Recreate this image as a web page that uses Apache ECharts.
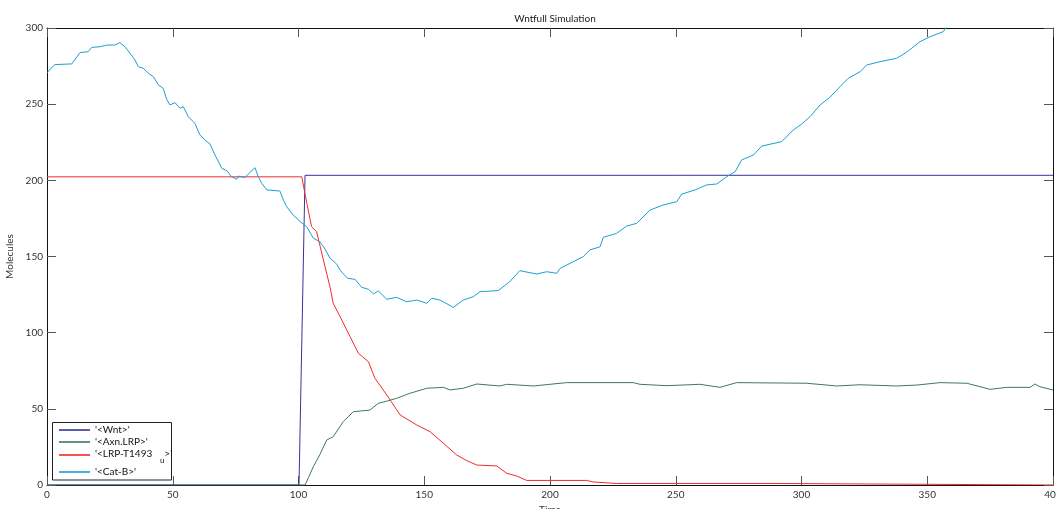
<!DOCTYPE html>
<html>
<head>
<meta charset="utf-8">
<script src="https://cdn.jsdelivr.net/npm/echarts@6/dist/echarts.min.js"></script>
<style>html,body{margin:0;padding:0;background:#fff}#c{width:1056px;height:509px}</style>
</head>
<body>
<div id="c"></div>
<script>
var seriesNames = ["'<Wnt>'", "'<Axn.LRP>'", "'<LRP-T1493_u>'", "'<Cat-B>'"];
var xTicks = [0, 400, 50];
var yTicks = [0, 300, 50];

var wntData = [[0,0],[100.2,0],[102.6,203.3],[400,203.3]];

var axnData = [[0,0],[102.6,0],[104,5],[105.9,12],[108.5,20],[111.2,29.5],[113.8,31.7],[117.8,41.6],[121.8,48.1],[128.4,49.2],[131.7,53.6],[135,55],[139,56.9],[144.3,60.2],[151,63.5],[157.6,64.1],[160.2,62.4],[165.5,63.5],[170.9,66.3],[180.1,65],[182.8,66.1],[193.4,65],[206.6,67.2],[233.1,67.2],[235.8,66.1],[246.4,65.2],[259.6,66.1],[267.6,64.1],[274.2,67.2],[302,66.8],[314,65],[323.3,65.8],[337.8,65],[345.8,65.6],[355.1,67.2],[365.7,66.8],[375,62.8],[381.6,64.1],[390.9,64.1],[392.8,66.3],[394.8,64.5],[400,62.4]];

var lrpData = [[0,202.3],[101.3,202.3],[103.3,185],[105.2,169.6],[107.2,166.3],[109.9,147.7],[112.5,130.2],[113.8,119.3],[117.2,108.3],[120.5,97.4],[123.8,86.5],[127.8,80.9],[130.4,70],[135.1,59.1],[140.4,46],[147,39.4],[152.3,35],[157.6,27.4],[162.9,19.7],[166.9,16],[170.9,13.1],[178.8,12.5],[182.8,7.7],[186.8,5.9],[190.7,3],[214.6,3],[217.2,2],[226.5,1],[289.5,1],[290,0],[400,0]];

var catData = [[0,270.5],[1.5,273.5],[3.2,276],[9.8,276.4],[13.1,283.8],[16.4,284.5],[17.8,287.3],[21.1,287.7],[23.7,288.8],[27,288.8],[29,290.4],[31,287.7],[33,283.4],[35,279],[36.3,274.6],[38.3,273.5],[40.3,270.3],[42.3,268],[44.3,262.6],[46.2,260.4],[47.6,253.2],[48.9,249.5],[50.9,251],[52.9,247.3],[54.2,248.3],[56.2,241.8],[58.8,237.4],[60.8,229.8],[62.8,226.5],[64.8,223.9],[66.8,216.6],[69.5,207.9],[71.5,206.3],[73.4,202.4],[75.4,200.7],[76.1,202.8],[78.7,201.9],[80,204.1],[82.7,208.3],[84,202.4],[85.4,198],[87.4,193.7],[92.6,193],[94,187],[95.3,182.7],[97.9,177.2],[100.6,173],[103.3,169.5],[105.9,162],[108.5,159.7],[110.5,155],[112.5,149],[115.2,145],[116.5,141.1],[119.5,135.7],[122.5,135],[125.1,129.8],[127.8,128.5],[129.8,125.4],[131.7,127.4],[135.1,121.9],[139,123.2],[143,120.3],[147,121.4],[151,119.3],[153,122.6],[156.3,121.4],[161.6,116.6],[165.5,121.4],[169.5,123.6],[172.2,126.9],[179.4,127.6],[184,133.5],[188,140.7],[194.7,138.5],[198.7,140],[202.7,139],[204,142.2],[209.3,146.6],[213.2,149.9],[215.9,154.3],[219.9,156.4],[221.2,162.6],[226.5,165.2],[230.5,170],[234.5,171.8],[239.8,180.5],[245,183.8],[250.4,186],[252.4,191],[257.7,193.7],[262.3,197],[266.3,197.6],[270.3,202.4],[273.6,205.7],[276.2,213.4],[280.9,216.6],[284.2,222.5],[292.1,225.4],[296.7,233],[300.1,237],[303.4,241.8],[307.4,249.5],[311.3,254.5],[315.3,261.5],[318.6,267],[323.3,271.3],[325.9,275.7],[331.2,277.9],[337.8,280.1],[341.8,284.1],[347.1,291],[351.1,294.3],[356.4,297.6],[357.7,300.9]];

var colors = ['#34349a', '#3d7a57', '#f02b2b', '#1c9fd0'];
var FONT = 'Lato';

function axisCommon(showLabel) {
  return {
    axisLine: {show: true, onZero: false, lineStyle: {color: '#111', width: 1}},
    axisTick: {show: true, inside: true, length: 9, lineStyle: {color: '#555', width: 1}},
    axisLabel: {show: showLabel, fontFamily: FONT, fontSize: 10, color: '#333'},
    splitLine: {show: false}
  };
}

function mkX(pos, showLabel) {
  var a = axisCommon(showLabel);
  a.type = 'value'; a.min = xTicks[0]; a.max = xTicks[1]; a.interval = xTicks[2];
  a.position = pos;
  a.axisLabel.margin = 5;
  if (showLabel) {
    a.name = 'Time'; a.nameLocation = 'middle'; a.nameGap = 17;
    a.nameTextStyle = {fontFamily: FONT, fontSize: 10, color: '#333'};
  }
  return a;
}
function mkY(pos, showLabel) {
  var a = axisCommon(showLabel);
  a.type = 'value'; a.min = yTicks[0]; a.max = yTicks[1]; a.interval = yTicks[2];
  a.position = pos;
  a.axisLabel.margin = 4;
  if (showLabel) {
    a.name = 'Molecules'; a.nameLocation = 'middle'; a.nameGap = 30;
    a.nameTextStyle = {fontFamily: FONT, fontSize: 10, color: '#333'};
  }
  return a;
}

function mkLegend(idx, top, formatter) {
  var l = {
    data: [seriesNames[idx]],
    left: 59, top: top, padding: 0, orient: 'vertical',
    icon: 'rect', itemWidth: 31, itemHeight: 1.6,
    z: 6,
    selectedMode: false,
    textStyle: {fontFamily: FONT, fontSize: 10, color: '#111', lineHeight: 12}
  };
  if (formatter) {
    l.formatter = formatter;
    l.textStyle.rich = {
      a: {fontFamily: FONT, fontSize: 10, color: '#111', lineHeight: 12, verticalAlign: 'top'},
      sub: {fontFamily: FONT, fontSize: 8, color: '#111', lineHeight: 8, verticalAlign: 'top', padding: [7, 0, 0, 0]}
    };
  }
  return l;
}

var chart = echarts.init(document.getElementById('c'), null, {renderer: 'canvas'});
chart.setOption({
  animation: false,
  backgroundColor: '#fff',
  color: colors,
  title: {
    text: 'Wntfull Simulation', left: 550, top: 9, textAlign: 'center',
    textStyle: {fontFamily: FONT, fontSize: 10, fontWeight: 'normal', color: '#222'}
  },
  grid: {left: 47, right: 3, top: 28, bottom: 24, containLabel: false, outerBoundsMode: 'none'},
  xAxis: [mkX('bottom', true), mkX('top', false)],
  yAxis: [mkY('left', true), mkY('right', false)],
  legend: [
    mkLegend(0, 424),
    mkLegend(1, 436),
    mkLegend(2, 449, function () { return "{a|'<LRP-T1493}{a|   }{sub|u}{a|>'}"; }),
    mkLegend(3, 466)
  ],
  graphic: [{
    type: 'rect', z: 5, silent: true,
    shape: {x: 52.5, y: 422.5, width: 119, height: 57.5},
    style: {fill: '#fff', stroke: '#222', lineWidth: 1}
  }],
  series: [
    {name: seriesNames[0], type: 'line', data: wntData, showSymbol: false, lineStyle: {width: 1, color: colors[0]}, itemStyle: {color: colors[0]}},
    {name: seriesNames[1], type: 'line', data: axnData, showSymbol: false, lineStyle: {width: 1, color: colors[1]}, itemStyle: {color: colors[1]}},
    {name: seriesNames[2], type: 'line', data: lrpData, showSymbol: false, lineStyle: {width: 1, color: colors[2]}, itemStyle: {color: colors[2]}},
    {name: seriesNames[3], type: 'line', data: catData, showSymbol: false, lineStyle: {width: 1, color: colors[3]}, itemStyle: {color: colors[3]}}
  ]
});
</script>
</body>
</html>
